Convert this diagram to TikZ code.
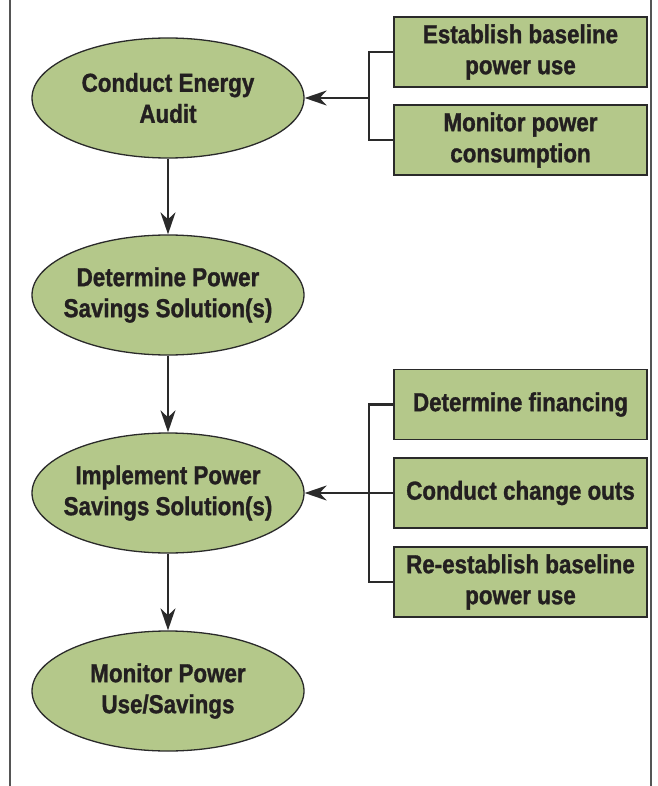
\documentclass[tikz,border=0pt]{standalone}
\usepackage{fontspec}
\setmainfont[FakeStretch=0.86, BoldFeatures={FakeBold=1.2}]{Liberation Sans}
\usetikzlibrary{shapes.geometric,arrows.meta}
\definecolor{leaf}{HTML}{B4C88A}
\definecolor{edgec}{HTML}{2A2A2A}
\definecolor{txt}{HTML}{231F20}
\definecolor{frame}{HTML}{555555}
\tikzset{
  base/.style={fill=leaf, draw=edgec, line width=1.3pt, text=txt, align=center,
    font=\fontsize{26}{31}\selectfont\bfseries, inner sep=0pt},
  stage/.style={base, ellipse, inner xsep=-50pt, inner ysep=-10pt,
    minimum width=272pt, minimum height=120pt},
  task/.style={base, rectangle, minimum width=253pt, minimum height=70pt},
  link/.style={draw=edgec, line width=2.2pt},
  arr/.style={link, -{Stealth[length=22pt,width=15pt,inset=7pt]}},
  framel/.style={draw=frame, line width=1.3pt}
}
\begin{document}
\begin{tikzpicture}[x=1pt,y=-1pt]
\useasboundingbox (0,0) rectangle (657,786);
\draw[framel] (10,0) -- (10,786);
\draw[framel] (651,0) -- (651,786);

\node[stage] (e1) at (168,98) {Conduct Energy\\Audit};
\node[stage] (e2) at (168,295) {Determine Power\\Savings Solution(s)};
\node[stage] (e3) at (168,493) {Implement Power\\Savings Solution(s)};
\node[stage] (e4) at (168,691) {Monitor Power\\Use/Savings};

\node[task] (b1) at (520.5,52) {Establish baseline\\power use};
\node[task] (b2) at (520.5,140) {Monitor power\\consumption};
\node[task] (b3) at (520.5,404.5) {Determine financing};
\node[task] (b4) at (520.5,493) {Conduct change outs};
\node[task] (b5) at (520.5,582) {Re-establish baseline\\power use};

\draw[arr] (e1) -- (e2);
\draw[arr] (e2) -- (e3);
\draw[arr] (e3) -- (e4);

\coordinate (j1) at (369,98);
\draw[link] (b1.west) -| (j1) |- (b2.west);
\draw[arr] (j1) -- (e1.east);

\coordinate (j2) at (369,493);
\draw[link] (b3.west) -| (j2) |- (b5.west);
\draw[arr] (b4.west) -- (e3.east);
\end{tikzpicture}
\end{document}
